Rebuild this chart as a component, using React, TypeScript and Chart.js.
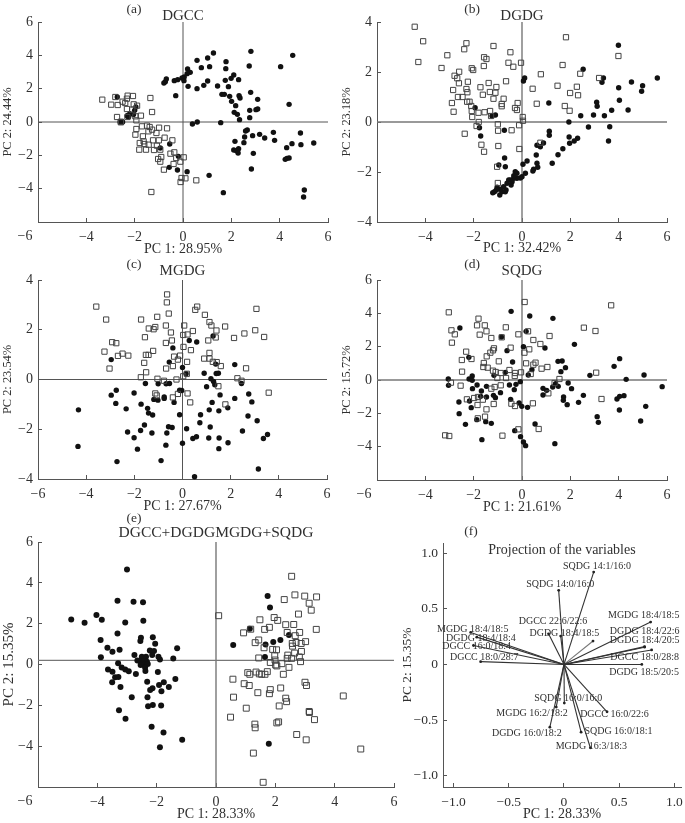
import React, { useEffect, useRef } from "react";
import { Chart, registerables } from "chart.js";

Chart.register(...registerables);

const dgccFilled = [[2.81,4.24],[4.54,4.0],[1.26,4.14],[1.02,3.84],[.58,3.7],[1.78,3.62],[2.74,3.36],[4.04,3.32],[.76,3.26],[1.1,3.32],[1.77,3.2],[.19,3.18],[.3,2.98],[.17,2.9],[.05,2.7],[-.04,2.64],[2.1,2.82],[1.99,2.62],[1.75,2.5],[2.3,2.54],[1.02,2.46],[-.69,2.58],[-.73,2.42],[-.79,2.34],[-.36,2.48],[-.22,2.54],[.04,2.48],[.21,2.14],[.58,2.0],[.86,2.2],[1.43,2.16],[1.88,2.12],[1.61,1.66],[1.71,1.66],[2.8,1.78],[1.93,1.54],[2.32,1.58],[2.36,1.44],[3.09,1.36],[2.01,1.24],[2.18,.98],[4.39,1.06],[-.3,1.58],[-2.72,1.5],[2.76,.7],[3.09,.78],[3.02,.74],[2.12,.58],[2.25,.46],[2.76,.26],[2.34,.14],[.59,0],[.39,-.12],[1.56,-.04],[2.66,-.48],[2.59,-.54],[2.55,-.9],[2.88,-.82],[3.17,-.74],[3.38,-.96],[3.74,-.62],[3.79,-1.1],[4.86,-.66],[4.51,-1.3],[4.88,-1.36],[5.41,-1.26],[4.29,-1.54],[2.15,-1.16],[2.52,-1.24],[2.3,-1.6],[2.1,-1.68],[2.21,-1.72],[2.28,-1.86],[2.91,-1.88],[4.39,-2.16],[4.3,-2.18],[4.23,-2.24],[2.83,-2.82],[5.02,-4.08],[4.99,-4.5],[1.67,-4.24],[1.08,-3.2],[.17,-2.98],[-.23,-2.88],[-.57,-2.72],[-.19,-2.06],[-.55,-1.32],[-.94,-1.56],[-2.3,.34],[-2.3,.4],[-2.2,.5],[-2.05,.45],[-2.0,.7],[-1.95,.9],[-2.6,0],[-2.5,0],[-2.25,.3]];
const dgccOpen = [[-3.34,1.34],[-2.97,1.04],[-2.7,1.02],[-2.8,1.5],[-2.29,1.58],[-2.32,1.4],[-2.07,1.56],[-1.35,1.44],[-2.39,1.14],[-2.5,1.22],[-2.04,1.06],[-1.9,.98],[-2.32,.78],[-2.1,.74],[-1.28,.6],[-2.73,.3],[-2.3,.3],[-1.74,.38],[-1.97,.34],[-2.57,-.02],[-2.57,.02],[-1.93,.1],[-1.93,-.42],[-1.7,-.26],[-1.49,-.22],[-1.38,-.3],[-.99,-.34],[-.66,-.38],[-1.97,-.76],[-1.43,-.56],[-1.28,-.46],[-1.1,-.66],[-1.66,-.86],[-.76,-.94],[-.44,-1.1],[-1.79,-1.26],[-1.63,-1.16],[-1.6,-1.32],[-1.24,-1.1],[-1.0,-1.1],[-1.42,-1.36],[-1.08,-1.42],[-1.81,-1.66],[-1.53,-1.66],[-1.2,-1.68],[-.94,-1.66],[-.52,-1.9],[-.36,-1.82],[-.9,-2.1],[-1.03,-2.22],[-.94,-2.38],[.03,-2.12],[-.11,-2.38],[-.28,-2.16],[-.39,-2.52],[-.79,-2.86],[-.06,-3.36],[.1,-3.38],[-.1,-3.6],[.55,-3.5],[-1.31,-4.2]];

const dgdgFilled = [[3.99,3.07],[2.53,2.11],[5.6,1.76],[4.99,1.45],[4.53,1.6],[4.95,1.23],[3.37,1.76],[3.31,1.59],[4.0,1.37],[4.03,.87],[4.39,.48],[3.09,.79],[3.11,.63],[3.71,.47],[3.41,.25],[2.96,.28],[2.43,.25],[1.94,0],[3.63,-.19],[2.75,-.2],[3.58,-.76],[1.11,.76],[.11,1.76],[.06,1.64],[-1.94,.57],[-1.1,.28],[-1.24,.24],[-1.76,-.23],[-1.71,-.56],[-.73,-.33],[1.13,-.37],[1.13,-.53],[1.95,-.6],[2.3,-.65],[2.16,-.76],[1.97,-.85],[.89,-.84],[.76,-.99],[.62,-.93],[1.69,-1.07],[1.49,-1.31],[1.25,-1.65],[.59,-1.32],[-.72,-1.44],[-.96,-1.72],[-.69,-1.79],[.21,-1.56],[.04,-1.69],[.62,-1.65],[.65,-1.81],[.48,-1.89],[.45,-1.96],[-.28,-1.99],[.14,-2.05],[0,-2.19],[-.07,-2.24],[-.21,-2.25],[-.34,-2.25],[-.48,-2.32],[-.55,-2.32],[-.62,-2.45],[-.76,-2.59],[-.45,-2.52],[-.66,-2.72],[-.89,-2.69],[-1.03,-2.61],[-1.14,-2.79],[-1.21,-2.83],[-.92,-2.92],[-1.06,-2.72],[-.83,-2.79],[-.69,-2.79],[-.21,-2.05],[-.34,-2.15],[-.41,-2.39]];
const dgdgOpen = [[-4.44,3.81],[-4.09,3.23],[-4.29,2.4],[-3.33,2.16],[-3.09,2.67],[-2.3,3.15],[-2.39,2.91],[-1.18,3.04],[-.48,2.79],[-1.57,2.59],[-1.47,2.52],[-1.58,2.24],[-.56,2.37],[-.36,2.21],[-.04,2.37],[-2.08,2.15],[-2.02,2.08],[-2.6,2.01],[-2.79,1.85],[-2.68,1.75],[-2.61,1.55],[-2.24,1.61],[-.66,1.63],[-1.38,1.56],[-1.72,1.39],[-1.06,1.4],[-2.3,1.32],[-2.26,1.19],[-2.85,1.28],[-1.33,1.2],[-1.1,1.17],[-1.62,1.09],[-2.65,1.0],[-2.46,1.0],[-1.18,.93],[-.76,.93],[-2.9,.76],[-2.27,.81],[-2.17,.81],[-2.1,.64],[-.84,.72],[-.84,.63],[-.18,.76],[-.29,.56],[-.21,.48],[-2.83,.41],[-2.08,.44],[-1.8,.37],[-1.55,.39],[-1.32,.44],[-1.28,.24],[-2.06,.2],[.03,.2],[.04,.05],[-1.79,0],[-1.88,-.16],[-1.0,-.09],[-.12,-.13],[-.99,-.35],[-.43,-.33],[-2.37,-.47],[-.98,-.96],[-1.57,-1.19],[-1.68,-.91],[-.11,-1.08],[-1.03,-1.79],[-1.0,-2.44],[1.82,3.39],[3.99,2.64],[1.68,2.28],[2.41,1.93],[3.19,1.76],[.78,1.91],[1.47,1.45],[2.27,1.41],[1.99,1.16],[2.32,1.07],[.44,1.33],[.61,.73],[1.77,.64],[1.97,.45],[.76,-.83]];

const mgdgFilled = [[-4.32,-1.22],[-4.34,-2.69],[-2.72,-3.3],[-2.96,.8],[-2.96,-.63],[-2.75,-.43],[-2.77,-.96],[-2.34,-1.18],[-2.01,-.54],[-2.28,-2.11],[-2.01,-2.34],[-1.87,-2.8],[-1.74,-2.05],[-1.58,-1.83],[-1.72,-.99],[-1.45,-1.16],[-1.41,-1.35],[-1.24,-1.43],[-1.27,-2.15],[-1.54,-.16],[-1.01,-.17],[-.68,-.17],[-.54,-.16],[-1.19,-.8],[-1.02,-.83],[-.76,-.7],[-.76,-.76],[-.89,-3.26],[-.69,-2.64],[-.65,-2.15],[-.58,-1.9],[-.43,-1.93],[-.35,-.92],[-.12,-.43],[-.03,-.44],[-.12,-1.42],[.17,-1.98],[0,-2.56],[.43,-2.37],[.58,-2.3],[.5,-3.91],[-.4,1.27],[-.55,.7],[0,.48],[.15,.23],[.28,1.57],[.59,1.51],[.9,.25],[1.0,-.29],[1.18,.03],[1.29,-.08],[1.34,-.21],[1.4,.24],[1.49,.25],[1.38,.62],[1.27,1.75],[1.11,-1.22],[1.23,-.92],[1.51,-1.26],[1.56,-.62],[.75,-1.42],[.72,-1.74],[1.15,-1.91],[1.09,-2.35],[1.52,-2.35],[1.51,-2.78],[1.89,-2.54],[1.88,-1.14],[2.17,-.76],[2.17,.6],[2.45,-.16],[2.75,-.58],[2.88,-.9],[2.72,-1.47],[3.1,-1.66],[2.49,-2.07],[3.36,-2.37],[3.53,-2.21],[3.15,-3.6]];
const mgdgOpen = [[-3.58,2.93],[-3.17,2.41],[-2.92,1.5],[-2.75,1.46],[-3.24,1.12],[-3.03,.44],[-2.68,.95],[-2.49,1.04],[-2.25,.96],[-1.72,2.41],[-1.05,2.52],[-1.13,2.11],[-1.4,2.05],[-1.2,2.02],[-1.56,1.7],[-.69,2.17],[-.48,1.89],[-.69,1.47],[-.44,1.57],[-.57,2.65],[-.65,3.1],[-.64,3.42],[.07,2.17],[.03,1.79],[.21,1.81],[.43,1.95],[.53,2.8],[.61,2.93],[.93,2.6],[1.12,2.31],[1.2,2.17],[1.41,1.97],[1.38,1.69],[1.07,1.57],[1.77,2.13],[2.14,1.67],[2.57,1.85],[3.02,1.98],[3.07,2.84],[3.39,1.71],[2.64,.45],[2.28,.05],[2.45,-.05],[1.49,-.27],[3.58,-.53],[1.78,-1.0],[.32,-.92],[.21,-.56],[.03,.13],[.18,.23],[.04,1.31],[.35,1.18],[-.1,.96],[-.35,.92],[-.19,.8],[-.4,.54],[-.68,.44],[.19,.71],[.9,.84],[1.12,1.07],[1.12,.84],[1.26,.71],[1.42,.7],[1.59,.54],[-1.52,.99],[-1.41,.99],[-1.22,1.15],[-1.59,.67],[-1.51,.29],[-1.73,.09],[-1.04,.03],[-.77,-.05],[-.25,0],[-1.13,-.56],[-1.07,-.64],[-.4,-.72],[-.19,-.58]];

const sqdgFilled = [[-.45,4.12],[.32,3.84],[1.28,3.7],[-2.57,3.12],[.17,2.92],[-.85,2.58],[2.17,2.14],[.06,2.0],[.95,1.92],[-.62,1.76],[-2.2,1.36],[4.04,1.28],[-.39,1.08],[1.49,1.12],[1.66,1.14],[3.81,.82],[1.8,.74],[1.61,.5],[.41,.62],[-.69,.46],[-1.16,.28],[.26,.3],[2.81,.28],[5.05,.3],[4.31,.04],[5.8,-.4],[-3.05,.06],[-3.04,-.32],[-2.06,.24],[-2.19,.06],[-2.06,-.02],[-2.05,-.52],[-1.86,-.3],[-1.47,-.38],[-.52,-.3],[-.25,-.26],[-.07,-.1],[-.32,-.58],[-.89,-.76],[-1.68,-.66],[-1.71,-.98],[-1.47,-1.02],[-1.18,-.92],[-1.1,-1.06],[-2.17,-1.26],[-2.61,-1.32],[-2.6,-2.02],[-2.1,-1.66],[-2.34,-2.66],[-1.87,-2.38],[-1.5,-2.5],[-1.27,-2.6],[-1.66,-3.58],[-.3,-3.04],[-.06,-3.4],[.06,-3.72],[.15,-3.94],[1.36,-3.82],[.54,-2.64],[-.47,-1.16],[-.12,-1.38],[-.01,-1.58],[.23,-1.64],[.87,-.5],[.87,-.9],[1.02,-.62],[1.27,-.42],[1.39,-.22],[1.5,-.38],[1.91,-.18],[2.05,-.52],[1.72,-1.02],[1.71,-1.22],[1.87,-1.48],[2.34,-1.34],[2.54,-.92],[3.11,-2.2],[3.16,-2.54],[3.93,-1.14],[4.04,-.98],[4.22,-.94],[4.03,-1.8],[4.91,-2.46],[5.12,-1.58]];
const sqdgOpen = [[.11,4.68],[3.69,4.48],[-3.03,4.06],[-1.8,3.68],[-1.86,3.28],[-1.54,3.28],[-.67,3.16],[-2.92,2.98],[-2.78,2.74],[-1.47,2.92],[-1.75,2.72],[-2.9,2.24],[-1.27,2.52],[-.84,2.56],[-.15,2.74],[.25,2.92],[1.14,2.64],[2.56,3.14],[3.04,2.94],[.47,2.4],[.76,2.16],[.1,1.64],[.3,1.84],[-.47,1.94],[-1.16,1.9],[-1.2,1.78],[-1.31,1.64],[-2.31,1.7],[-2.49,1.2],[-2.09,1.26],[-1.46,1.42],[-.96,1.12],[-1.58,1.02],[-1.6,.78],[-1.42,.74],[-2.48,.5],[-1.2,.56],[-1.09,.48],[-.88,.42],[-.52,.6],[-.28,.42],[-.3,.24],[-.04,.46],[.17,1.0],[.56,1.04],[.47,.92],[.81,.68],[1.05,.78],[.36,.36],[3.07,.44],[-1.02,.12],[-.66,.12],[1.55,.06],[1.35,-.18],[-2.94,-.16],[-2.54,-.34],[-.88,-.32],[-1.13,-.42],[-1.27,-.52],[1.09,-.8],[3.29,-1.14],[-2.28,-1.16],[-1.98,-1.08],[-1.82,-1.02],[-1.62,-1.18],[-1.17,-1.44],[-1.84,-1.5],[-1.47,-1.76],[-.44,-1.42],[-.29,-1.56],[.45,-1.4],[-1.53,-2.2],[-1.83,-2.3],[-.15,-2.96],[.69,-2.94],[-.81,-3.34],[-3.18,-3.32],[-3.01,-3.36]];

const allFilled = [[-3.0,4.65],[-3.32,3.12],[-2.78,3.07],[-2.46,3.05],[-4.03,2.42],[-4.88,2.21],[-4.43,2.04],[-3.85,2.19],[-3.06,2.06],[-2.45,2.14],[-3.32,1.52],[-3.89,1.2],[-2.53,1.31],[-2.55,1.15],[-2.13,1.33],[-2.05,1.02],[-3.66,.82],[-3.49,.63],[-3.25,.72],[-1.31,.79],[-2.75,.46],[-2.23,.69],[-2.09,.66],[-2.15,.46],[-1.94,.38],[-1.89,.25],[-1.44,.3],[-3.88,.35],[-2.45,.3],[-2.5,.38],[-2.36,.38],[-2.56,.17],[-2.42,.17],[-2.33,.14],[-2.65,.19],[-2.45,.02],[-2.3,.02],[-2.54,-.02],[-2.39,-.15],[-2.38,-.32],[-3.3,.06],[-3.18,-.15],[-3.06,-.24],[-2.94,-.33],[-3.64,-.25],[-3.49,-.35],[-3.4,-.63],[-3.5,-.87],[-3.29,-.61],[-2.7,-.46],[-1.96,-.37],[-3.22,-1.1],[-2.32,-.84],[-2.14,-1.16],[-2.22,-1.25],[-1.92,-1.0],[-1.76,-.87],[-1.59,-1.1],[-1.37,-.71],[-1.84,-1.31],[-2.31,-1.6],[-2.84,-1.6],[-2.13,-1.98],[-2.29,-2.04],[-1.85,-2.01],[-3.27,-2.24],[-3.05,-2.66],[-2.17,-3.05],[-1.77,-3.33],[-1.14,-3.69],[-1.89,-4.05],[1.74,3.36],[1.82,2.79],[1.14,1.75],[.58,.95],[1.67,.98],[1.93,1.1],[2.17,1.2],[2.46,1.44],[1.65,.37],[1.78,-3.88]];
const allOpen = [[.09,2.39],[2.55,4.32],[2.66,3.41],[2.3,3.18],[2.99,3.35],[3.39,3.31],[3.14,3.0],[3.21,2.66],[2.78,2.47],[1.48,2.19],[1.96,2.3],[2.08,2.16],[2.35,1.95],[2.62,1.96],[1.8,1.82],[1.64,1.72],[3.38,1.72],[.93,1.55],[1.17,1.73],[2.4,1.57],[2.82,1.57],[2.67,1.41],[1.44,1.2],[1.32,1.07],[3.02,1.12],[2.87,1.03],[2.7,1.08],[2.57,1.03],[2.58,.9],[1.62,.82],[1.91,.74],[2.04,.72],[2.88,.64],[2.65,.56],[2.42,.46],[1.98,.43],[1.44,.32],[2.4,.3],[2.55,.3],[2.81,.37],[1.99,.22],[1.83,.1],[2.85,.14],[2.22,.04],[2.01,-.02],[2.05,-.07],[2.46,-.14],[1.07,-.4],[1.14,-.48],[1.35,-.37],[1.46,-.46],[1.54,-.48],[1.65,-.48],[1.73,-.35],[2.27,-.48],[.57,-.72],[.95,-.94],[1.12,-1.03],[3.0,-.87],[3.05,-1.03],[1.83,-1.23],[2.18,-1.15],[1.8,-1.43],[1.41,-1.38],[.59,-1.6],[2.35,-1.65],[2.38,-1.82],[4.29,-1.54],[1.02,-2.14],[2.13,-2.03],[3.14,-2.3],[3.15,-2.35],[3.32,-2.7],[.49,-2.58],[1.32,-3.1],[1.31,-2.92],[2.11,-2.81],[2.05,-2.86],[2.72,-3.43],[3.04,-3.69],[4.88,-4.14],[1.26,-4.34],[1.59,-5.77]];

const variableNames = ["SQDG 14:1/16:0","SQDG 14:0/16:0","DGCC 22:6/22:6","DGDG 18:4/18:5","MGDG 18:4/18:5","DGDG 18:4/22:6","DGDG 18:4/20:5","DGCC 18:0/28:8","DGDG 18:5/20:5","MGDG 18:4/18:5","DGDG 18:4/18:4","DGCC 16:0/18:4","DGCC 18:0/28:7","SQDG 16:0/16:0","MGDG 16:2/18:2","DGCC 16:0/22:6","DGDG 16:0/18:2","SQDG 16:0/18:1","MGDG 16:3/18:3",""];
const variableX = [.269,-.048,-.14,-.03,.785,.73,.73,.794,.705,-.845,-.79,-.82,-.755,.003,-.07,.39,-.128,.155,.239,.263];
const variableY = [.829,.665,.275,.255,.38,.16,.155,.13,0,.287,.245,.17,.025,-.347,-.383,-.425,-.563,-.608,-.748,.21];
const variableLabelX = [.299,-.033,-.099,.003,.722,.731,.731,.731,.725,-.827,-.752,-.791,-.722,.039,-.29,.457,-.337,.493,.248,0];
const variableLabelY = [.883,.716,.389,.278,.44,.296,.213,.066,-.072,.317,.237,.162,.06,-.302,-.44,-.452,-.617,-.599,-.737,0];

const FONT = '"Liberation Serif", "Times New Roman", serif';
const TEXT = "#303030";
const AXIS = "#555";
const minus = (v: number) => (v < 0 ? "\u2212" : "") + Math.abs(v);
const minusFixed = (v: number) => (v === 0 ? "0" : (v < 0 ? "\u2212" : "") + Math.abs(v).toFixed(1));

type P = any;
const panels: P[] = [
  { id:"a", letter:"(a)", lx:134, ly:9, title:"DGCC", xt:"PC 1: 28.95%", yt:"PC 2: 24.44%", left:0, top:0, pl:38, pr:328, pt:22, pb:222, tc:16, xc:250, ts:15, yts:12.4, tk:14, xr:[-6,6], yr:[-6,6], filled:dgccFilled, open:dgccOpen, hy:0, hideYMin:true, shiftXMin:true, zero:"#555", zw:1 },
  { id:"b", letter:"(b)", lx:472, ly:9, title:"DGDG", xt:"PC 1: 32.42%", yt:"PC 2: 23.18%", left:339, top:0, pl:377, pr:667, pt:22, pb:222, tc:16, xc:249, ts:15, yts:12.4, tk:14, xr:[-6,6], yr:[-4,4], filled:dgdgFilled, open:dgdgOpen, hy:0, hideXMin:true, zero:"#777", zw:1.4 },
  { id:"c", letter:"(c)", lx:134, ly:264, title:"MGDG", xt:"PC 1: 27.67%", yt:"PC 2: 23.54%", left:0, top:256, pl:38, pr:327, pt:280, pb:479, tc:271, xc:507, ts:15, yts:12.4, tk:14, xr:[-6,6], yr:[-4,4], filled:mgdgFilled, open:mgdgOpen, hy:0, zero:"#555", zw:1 },
  { id:"d", letter:"(d)", lx:472, ly:264, title:"SQDG", xt:"PC 1: 21.61%", yt:"PC 2: 15.72%", left:339, top:256, pl:377, pr:667, pt:280, pb:480, tc:271, xc:508, ts:15, yts:12.4, tk:14, xr:[-6,6], yr:[-6,6], filled:sqdgFilled, open:sqdgOpen, hy:0, hideYMin:true, shiftXMin:true, zero:"#777", zw:1.4 },
  { id:"e", letter:"(e)", lx:134, ly:518, title:"DGCC+DGDGMGDG+SQDG", xt:"PC 1: 28.33%", yt:"PC 2: 15.35%", left:0, top:511, pl:38, pr:394, pt:542, pb:787, tc:533, xc:814.5, ts:15.5, yts:15, tk:14, xr:[-6,6], yr:[-6,6], filled:allFilled, open:allOpen, hy:0.2, hideYMin:true, shiftXMin:true, zero:"#777", zw:1.4, r:3, s:4.2 },
  { id:"f", letter:"(f)", lx:471, ly:531, title:"Projection of the variables", xt:"PC 1: 28.33%", yt:"PC 2: 15.35%", left:399, top:522, pl:443, pr:684, pt:543, pb:787, tc:550, xc:814.5, ts:14, yts:13.4, tk:13.5, xr:[-1.096,1.06], yr:[-1.1,1.09], step:.5, vectors:true },
];

function buildConfig(p: P) {
  const pr = p.vectors ? 685 - p.pr : 12;
  const width = p.pr - p.left + pr;
  const xLh = 14 * 1.2;
  const height = Math.round(p.xc + xLh / 2 - p.top);
  const titleLh = p.ts * 1.2;
  const padTop = p.tc - titleLh / 2 - p.top;
  const titleBottom = p.pt - p.tc - titleLh / 2;
  const fmt = p.vectors ? minusFixed : minus;
  const datasets: any[] = [];
  if (p.vectors) {
    variableNames.forEach((name, i) => {
      datasets.push({
        label: name || "variable",
        data: [{ x: 0, y: 0 }, { x: variableX[i], y: variableY[i] }],
        showLine: true,
        borderColor: i === 19 ? "#777" : "#333",
        borderWidth: 1.1,
        backgroundColor: "#222",
        pointRadius: [0, 1.4],
        pointBorderWidth: 0,
      });
    });
  } else {
    datasets.push({ label: "Group 1", data: p.filled.map(([x, y]: number[]) => ({ x, y })), pointStyle: "circle", pointRadius: p.r ?? 2.7, backgroundColor: "#111", borderColor: "#111", borderWidth: 0, clip: false, order: 2 });
    datasets.push({ label: "Group 2", data: p.open.map(([x, y]: number[]) => ({ x, y })), pointStyle: "rect", pointRadius: p.s ?? 3.7, backgroundColor: "transparent", borderColor: "#444", pointBorderWidth: 1, clip: false, order: 1 });
    datasets.push({ label: "PC 1 axis", data: [{ x: p.xr[0], y: p.hy }, { x: p.xr[1], y: p.hy }], showLine: true, borderColor: p.zero, borderWidth: p.zw, pointRadius: 0, order: 3 });
    datasets.push({ label: "PC 2 axis", data: [{ x: 0, y: p.yr[0] }, { x: 0, y: p.yr[1] }], showLine: true, borderColor: p.zero, borderWidth: p.zw, pointRadius: 0, order: 3 });
  }
  const overlay = {
    id: "panelText",
    afterDraw(chart: any) {
      const ctx = chart.ctx;
      ctx.save();
      ctx.fillStyle = TEXT;
      ctx.textAlign = "center";
      ctx.textBaseline = "middle";
      ctx.font = `13.5px ${FONT}`;
      ctx.fillText(p.letter, p.lx - p.left, p.ly - p.top);
      if (p.shiftXMin) {
        ctx.font = `${p.tk}px ${FONT}`;
        ctx.textBaseline = "top";
        ctx.fillText(minus(p.xr[0]), chart.scales.x.getPixelForValue(p.xr[0]) - 13, chart.scales.x.top + 7);
      }
      if (p.vectors) {
        ctx.font = `10px ${FONT}`;
        ctx.textBaseline = "middle";
        variableNames.forEach((name, i) => {
          if (!name) return;
          ctx.fillText(name, chart.scales.x.getPixelForValue(variableLabelX[i]), chart.scales.y.getPixelForValue(variableLabelY[i]));
        });
      }
      ctx.restore();
    },
  };
  const baseAxis = {
    border: { color: AXIS, width: 1 },
    grid: { drawOnChartArea: false, drawTicks: true, tickLength: -4, tickColor: AXIS, lineWidth: 1 },
  };
  return {
    width,
    height,
    config: {
      type: "scatter",
      data: { datasets },
      plugins: [overlay],
      options: {
        animation: false,
        responsive: false,
        devicePixelRatio: 1,
        layout: { padding: { top: padTop, right: pr, left: 0, bottom: 0 } },
        plugins: {
          legend: { display: false },
          tooltip: { enabled: false },
          title: { display: true, text: p.title, fullSize: false, color: TEXT, font: { family: FONT, size: p.ts, weight: "normal" }, padding: { top: 0, bottom: titleBottom } },
        },
        scales: {
          x: {
            ...baseAxis,
            type: "linear",
            min: p.xr[0],
            max: p.xr[1],
            title: { display: true, text: p.xt, color: TEXT, font: { family: FONT, size: 14 }, padding: 0 },
            afterFit: (s: any) => {
              s.height = height + p.top - p.pb;
              s.paddingLeft = 0;
              s.paddingRight = 0;
            },
            ticks: {
              stepSize: p.step ?? 2,
              includeBounds: false,
              maxRotation: 0,
              autoSkip: false,
              color: TEXT,
              padding: 11,
              font: { family: FONT, size: p.tk },
              callback: (v: number) => ((p.shiftXMin || p.hideXMin) && v === p.xr[0] ? null : fmt(v)),
            },
          },
          y: {
            ...baseAxis,
            type: "linear",
            min: p.yr[0],
            max: p.yr[1],
            title: { display: true, text: p.yt, color: TEXT, font: { family: FONT, size: p.yts }, padding: 0 },
            afterFit: (s: any) => {
              s.width = p.pl - p.left;
              s.paddingTop = 0;
              s.paddingBottom = 0;
            },
            ticks: {
              stepSize: p.step ?? 2,
              includeBounds: false,
              autoSkip: false,
              color: TEXT,
              padding: 9,
              font: { family: FONT, size: p.tk },
              callback: (v: number) => (p.hideYMin && v === p.yr[0] ? null : fmt(v)),
            },
          },
        },
      },
    },
  };
}

function Panel({ p }: { p: P }) {
  const ref = useRef<HTMLCanvasElement>(null);
  const built = buildConfig(p);
  useEffect(() => {
    const chart = new Chart(ref.current as HTMLCanvasElement, buildConfig(p).config as any);
    return () => chart.destroy();
  }, [p]);
  return (
    <canvas
      ref={ref}
      width={built.width}
      height={built.height}
      style={{ position: "absolute", left: p.left, top: p.top, width: built.width, height: built.height, display: "block" }}
    />
  );
}

export default function App() {
  return (
    <div style={{ position: "absolute", left: 0, top: 0, width: 685, height: 823, overflow: "hidden", background: "#fff" }}>
      {panels.map((p) => (
        <Panel key={p.id} p={p} />
      ))}
    </div>
  );
}
